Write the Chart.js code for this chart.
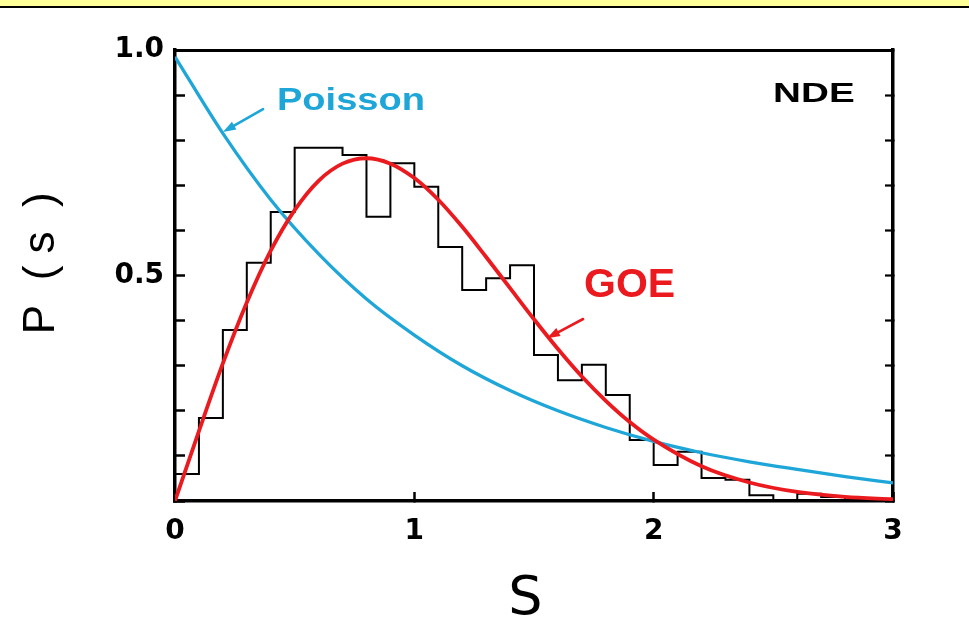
<!DOCTYPE html>
<html>
<head>
<meta charset="utf-8">
<script src="https://cdn.jsdelivr.net/npm/chart.js@4.4.1/dist/chart.umd.min.js"></script>
<style>
  html, body { margin: 0; padding: 0; background: #fff; overflow: hidden; }
  #wrap { position: absolute; left: 0; top: 0; width: 969px; height: 637px; }
  #band { position: absolute; left: 0; top: 0; width: 969px; height: 6px;
          background: #ffff9a; border-bottom: 2px solid #000; }
</style>
</head>
<body>
<div id="wrap"><canvas id="c" width="969" height="637"></canvas></div>
<div id="band"></div>
<script>
// Nearest-neighbour spacing histogram, bins of width 0.1 starting at s = 0
const binStarts = [0.0, 0.1, 0.2, 0.3, 0.4, 0.5, 0.6, 0.7, 0.8, 0.9,
                   1.0, 1.1, 1.2, 1.3, 1.4, 1.5, 1.6, 1.7, 1.8, 1.9,
                   2.0, 2.1, 2.2, 2.3, 2.4, 2.5, 2.6, 2.7, 2.8, 2.9];
const histValues = [0.060, 0.184, 0.379, 0.528, 0.641, 0.783, 0.783, 0.767, 0.630, 0.749,
                    0.697, 0.563, 0.468, 0.494, 0.523, 0.324, 0.268, 0.302, 0.235, 0.135,
                    0.080, 0.109, 0.051, 0.047, 0.013, 0.000, 0.016, 0.009, 0.000, 0.000];
const histEnd = 3.0;

// GOE (Wigner) curve
const goeS = [0, 0.1, 0.2, 0.3, 0.4, 0.5, 0.6, 0.7, 0.8, 0.9, 1.0, 1.1, 1.2, 1.3, 1.4,
              1.5, 1.6, 1.7, 1.8, 1.9, 2.0, 2.2, 2.4, 2.6, 2.8, 3.0];
const goeP = [0, 0.155, 0.305, 0.440, 0.555, 0.645, 0.710, 0.748, 0.760, 0.748, 0.716,
              0.668, 0.608, 0.541, 0.472, 0.403, 0.337, 0.276, 0.222, 0.175, 0.136,
              0.077, 0.041, 0.020, 0.009, 0.004];

// Poisson curve
const poissonS = [0, 0.2, 0.4, 0.6, 0.8, 1.0, 1.2, 1.4, 1.6, 1.8, 2.0, 2.2, 2.4, 2.6, 2.8, 3.0];
const poissonP = [0.985, 0.815, 0.668, 0.548, 0.448, 0.368, 0.300, 0.245, 0.200, 0.163,
                  0.132, 0.107, 0.087, 0.070, 0.054, 0.040];

// Axis ticks
const xTickValues = [0, 1, 2, 3];
const yLabelledTicks = [0.5, 1.0];

const BLUE = '#1ea6d8';
const RED = '#ea1a1f';

const histPoints = [{ x: 0, y: 0 }];
binStarts.forEach((s, i) => histPoints.push({ x: s, y: histValues[i] }));
histPoints.push({ x: histEnd, y: 0 });

const goePoints = goeS.map((s, i) => ({ x: s, y: goeP[i] }));
const poissonPoints = poissonS.map((s, i) => ({ x: s, y: poissonP[i] }));

// Text labels and pointer arrows placed in data coordinates
const notesPlugin = {
  id: 'notes',
  afterDatasetsDraw(chart, args, opts) {
    const { ctx } = chart;
    const xs = chart.scales.x, ys = chart.scales.y;
    ctx.save();
    for (const n of opts.labels) {
      ctx.font = n.font;
      ctx.fillStyle = n.color;
      ctx.textAlign = 'left';
      ctx.textBaseline = 'alphabetic';
      ctx.save();
      ctx.translate(xs.getPixelForValue(n.s), ys.getPixelForValue(n.p));
      ctx.scale(n.stretch || 1, 1);
      ctx.fillText(n.text, 0, 0);
      ctx.restore();
    }
    for (const a of opts.arrows) {
      const x0 = xs.getPixelForValue(a.from[0]), y0 = ys.getPixelForValue(a.from[1]);
      const x1 = xs.getPixelForValue(a.to[0]), y1 = ys.getPixelForValue(a.to[1]);
      const ang = Math.atan2(y1 - y0, x1 - x0);
      const len = 13, half = 4.5;
      ctx.strokeStyle = a.color;
      ctx.fillStyle = a.color;
      ctx.lineWidth = 2.6;
      ctx.lineCap = 'round';
      ctx.beginPath();
      ctx.moveTo(x0, y0);
      ctx.lineTo(x1 - Math.cos(ang) * len * 0.8, y1 - Math.sin(ang) * len * 0.8);
      ctx.stroke();
      ctx.beginPath();
      ctx.moveTo(x1, y1);
      ctx.lineTo(x1 - Math.cos(ang) * len - Math.sin(ang) * half,
                 y1 - Math.sin(ang) * len + Math.cos(ang) * half);
      ctx.lineTo(x1 - Math.cos(ang) * len + Math.sin(ang) * half,
                 y1 - Math.sin(ang) * len - Math.cos(ang) * half);
      ctx.closePath();
      ctx.fill();
    }
    ctx.restore();
  }
};

const tickFont = { family: 'DejaVu Sans', size: 28, weight: 'bold' };

new Chart(document.getElementById('c'), {
  type: 'line',
  data: {
    datasets: [
      {
        label: 'GOE', data: goePoints, borderColor: RED, borderWidth: 3.8,
        pointRadius: 0, cubicInterpolationMode: 'monotone', fill: false, order: 0
      },
      {
        label: 'Poisson', data: poissonPoints, borderColor: BLUE, borderWidth: 3.3,
        pointRadius: 0, cubicInterpolationMode: 'monotone', fill: false, order: 1
      },
      {
        label: 'NDE', data: histPoints, borderColor: '#000', borderWidth: 2,
        pointRadius: 0, stepped: 'before', fill: false, order: 2
      }
    ]
  },
  options: {
    responsive: false,
    animation: false,
    devicePixelRatio: 1,
    layout: { padding: 0 },
    plugins: {
      legend: { display: false },
      tooltip: { enabled: false },
      notes: {
        labels: [
          { text: 'Poisson', s: 0.426, p: 0.867, color: BLUE, font: 'bold 32px "Liberation Sans"', stretch: 1.19 },
          { text: 'GOE', s: 1.709, p: 0.452, color: RED, font: 'bold 41px "Liberation Sans"', stretch: 1.0 },
          { text: 'NDE', s: 2.499, p: 0.885, color: '#000', font: 'bold 28px "Liberation Sans"', stretch: 1.38 }
        ],
        arrows: [
          { from: [0.368, 0.869], to: [0.200, 0.818], color: BLUE },
          { from: [1.705, 0.4035], to: [1.554, 0.361], color: RED }
        ]
      }
    },
    scales: {
      x: {
        type: 'linear', position: 'bottom', min: 0, max: 3,
        afterBuildTicks: (s) => { s.ticks = xTickValues.map(v => ({ value: v })); },
        ticks: { font: tickFont, color: '#000', padding: 23, maxRotation: 0,
                 callback: (v) => String(v) },
        grid: { drawOnChartArea: false, drawTicks: true, tickLength: -9, tickWidth: 2.5, color: '#000' },
        border: { display: true, width: 3.5, color: '#000' },
        title: { display: true, text: 'S ', color: '#000',
                 font: { family: 'DejaVu Sans', size: 54 }, padding: { top: 0, bottom: 5 } },
        afterFit: (s) => { s.height = 136; }
      },
      xTop: {
        type: 'linear', position: 'top', min: 0, max: 3,
        ticks: { display: false },
        grid: { drawOnChartArea: false, drawTicks: false },
        border: { display: true, width: 3, color: '#000' },
        afterFit: (s) => { s.height = 50; }
      },
      y: {
        type: 'linear', position: 'left', min: 0, max: 1,
        ticks: {
          stepSize: 0.1, font: tickFont, color: '#000', padding: 21,
          callback: (v) => yLabelledTicks.some(t => Math.abs(t - v) < 1e-6) ? v.toFixed(1) : ''
        },
        grid: { drawOnChartArea: false, drawTicks: true, tickLength: -10, tickWidth: 2.5, color: '#000' },
        border: { display: true, width: 3.5, color: '#000' },
        title: { display: true, text: '  P  ( s  )', color: '#000',
                 font: { family: 'Liberation Sans', size: 44 }, padding: { top: 15, bottom: 0 } },
        afterFit: (s) => { s.width = 175; }
      },
      yRight: {
        type: 'linear', position: 'right', min: 0, max: 1,
        ticks: { display: false, stepSize: 0.1 },
        grid: { drawOnChartArea: false, drawTicks: true, tickLength: -8, tickWidth: 2.2, color: '#000' },
        border: { display: true, width: 3.5, color: '#000' },
        afterFit: (s) => { s.width = 76; }
      }
    }
  },
  plugins: [notesPlugin]
});
</script>
</body>
</html>
